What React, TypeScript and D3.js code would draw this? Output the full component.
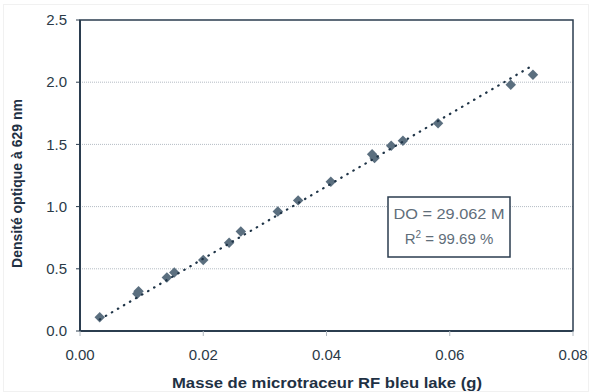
import React from 'react';
import * as d3 from 'd3';

const width = 592;
const height = 392;
const margin = { top: 20, right: 19, bottom: 61, left: 80 };

// masse (g) and densité optique
const masses = [0.0032, 0.0093, 0.0095, 0.0141, 0.0153, 0.02, 0.0242, 0.0261, 0.0321, 0.0354, 0.0407, 0.0474, 0.0478, 0.0505, 0.0524, 0.0581, 0.0699, 0.0735];
const densites = [0.11, 0.3, 0.32, 0.43, 0.47, 0.57, 0.71, 0.8, 0.96, 1.05, 1.2, 1.42, 1.39, 1.49, 1.53, 1.67, 1.98, 2.06];

const xTicks = [0, 0.02, 0.04, 0.06, 0.08];
const yTicks = [0, 0.5, 1.0, 1.5, 2.0, 2.5];
const slope = 29.062;
const trendRange = [0.0032, 0.0735];

const frameColor = '#2b3d4f';
const textColor = '#2b3a47';
const markerColor = '#5b6f7f';
const font = 'Liberation Sans, Arial, sans-serif';

export default function App() {
	const x = d3.scaleLinear().domain([0, 0.08]).range([margin.left, width - margin.right]);
	const y = d3.scaleLinear().domain([0, 2.5]).range([height - margin.bottom, margin.top]);

	const trend = d3
		.line<number>()
		.x(d => x(d))
		.y(d => y(slope * d))(trendRange);

	const diamond = d3.symbol().type(d3.symbolDiamond2).size(70)();

	const points = masses.map((m, i) => ({ m, d: densites[i] }));

	const x0 = x(0);
	const x1 = x(0.08);
	const y0 = y(0);
	const y1 = y(2.5);

	return (
		<svg width={width} height={height} style={{ position: 'absolute', left: 0, top: 0 }}>
			<rect x={0} y={0} width={width} height={height} fill="#fff" />
			<rect x={3.5} y={4.5} width={width - 7} height={height - 5} fill="none" stroke="#f1f1f1" />

			{/* grid */}
			{yTicks.slice(1, -1).map(t => (
				<line key={t} x1={x0} x2={x1} y1={y(t)} y2={y(t)} stroke="#b4bcc4" strokeWidth={1} strokeDasharray="1,1" />
			))}

			{/* frame */}
			<rect x={x0} y={y1} width={x1 - x0} height={y0 - y1} fill="none" stroke={frameColor} strokeWidth={1.5} />
			<line x1={x0} x2={x0} y1={y1} y2={y0} stroke={frameColor} strokeWidth={2} />
			<line x1={x0} x2={x1} y1={y0} y2={y0} stroke={frameColor} strokeWidth={2} />

			{/* y ticks */}
			{yTicks.map(t => (
				<g key={t}>
					<line x1={x0 - 4} x2={x0} y1={y(t)} y2={y(t)} stroke={frameColor} strokeWidth={1} />
					<text x={x0 - 13} y={y(t)} dy="0.35em" textAnchor="end" fontFamily={font} fontSize={15} fill={textColor}>
						{t.toFixed(1)}
					</text>
				</g>
			))}

			{/* x ticks */}
			{xTicks.map(t => (
				<g key={t}>
					<line x1={x(t)} x2={x(t)} y1={y0} y2={y0 + 5} stroke="#b0b8c0" strokeWidth={1} />
					<text x={x(t)} y={y0 + 29} textAnchor="middle" fontFamily={font} fontSize={15} fill={textColor}>
						{t.toFixed(2)}
					</text>
				</g>
			))}

			{/* points */}
			{points.map((p, i) => (
				<path key={i} d={diamond} transform={`translate(${x(p.m)},${y(p.d)})`} fill={markerColor} />
			))}

			{/* trend line */}
			<path d={trend} fill="none" stroke="#1f3447" strokeWidth={2.2} strokeLinecap="round" strokeDasharray="0.5,6.5" />

			{/* equation box */}
			<rect x={388} y={197} width={122} height={60} fill="#fff" stroke={frameColor} strokeWidth={1.5} />
			<text x={449} y={219} textAnchor="middle" fontFamily={font} fontSize={15} fill="#5f6e7a" textLength={111} lengthAdjust="spacingAndGlyphs">
				DO = 29.062 M
			</text>
			<text x={449} y={244} textAnchor="middle" fontFamily={font} fontSize={15} fill="#5f6e7a">
				R<tspan dy={-6} fontSize={10}>2</tspan>
				<tspan dy={6}> = 99.69 %</tspan>
			</text>

			{/* axis titles */}
			<text x={327} y={388} textAnchor="middle" fontFamily={font} fontSize={14.5} fontWeight="bold" fill="#1f3144" textLength={310} lengthAdjust="spacingAndGlyphs">
				Masse de microtraceur RF bleu lake (g)
			</text>
			<text transform={`translate(22,${(y0 + y1) / 2 + 8}) rotate(-90)`} textAnchor="middle" fontFamily={font} fontSize={14} fontWeight="bold" fill="#1f3144">
				Densité optique à 629 nm
			</text>
		</svg>
	);
}
